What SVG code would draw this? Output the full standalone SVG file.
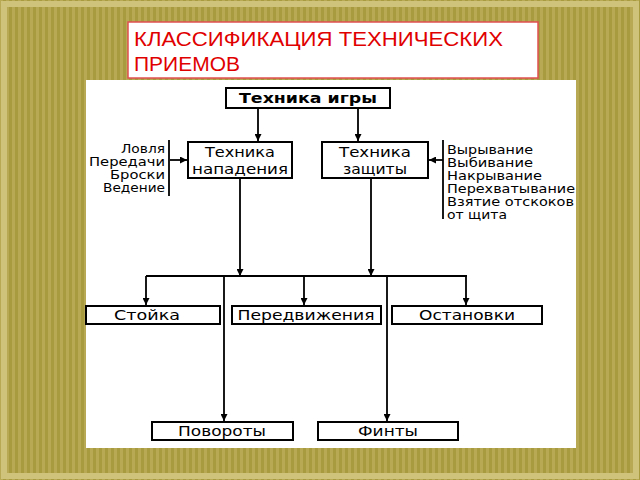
<svg xmlns="http://www.w3.org/2000/svg" width="640" height="480" viewBox="0 0 640 480">
<defs>
<pattern id="st" width="6" height="6" patternUnits="userSpaceOnUse">
<rect width="6" height="6" fill="#a89a3e"/>
<rect width="3" height="6" fill="#b8aa55"/>
</pattern>
<marker id="ah" viewBox="0 0 10 10" refX="10" refY="5" markerWidth="7" markerHeight="7" orient="auto" markerUnits="userSpaceOnUse"><path d="M0,0 L10,5 L0,10 z" fill="#000"/></marker>
</defs>
<style>
.b{fill:#fff;stroke:#000;stroke-width:2}
.t{font-family:"DejaVu Sans",Verdana,sans-serif;font-size:14px;fill:#000}
.s{font-family:"DejaVu Sans",Verdana,sans-serif;font-size:12px;fill:#000}
.c{stroke:#000;stroke-width:1.8;fill:none}
</style>
<rect width="640" height="480" fill="url(#st)"/>
<rect x="4" y="4" width="632" height="472" fill="none" stroke="#cfc27a" stroke-width="6"/>
<rect x="86" y="80" width="490" height="368" fill="#fff"/>
<g id="title">
<rect x="128" y="22" width="410" height="56" fill="#fff" stroke="#e05050" stroke-width="1.5"/>
<text x="134" y="46" font-family="Liberation Sans,Arial,sans-serif" font-size="20" fill="#e00000" textLength="369" lengthAdjust="spacingAndGlyphs">КЛАССИФИКАЦИЯ ТЕХНИЧЕСКИХ</text>
<text x="134" y="71" font-family="Liberation Sans,Arial,sans-serif" font-size="20" fill="#e00000" textLength="106" lengthAdjust="spacingAndGlyphs">ПРИЕМОВ</text>
</g>
<g id="connectors">
<line class="c" x1="258" y1="108" x2="258" y2="141" marker-end="url(#ah)"/>
<line class="c" x1="358" y1="108" x2="358" y2="141" marker-end="url(#ah)"/>
<line class="c" x1="169" y1="140" x2="169" y2="196"/>
<line class="c" x1="170" y1="160" x2="187" y2="160" marker-end="url(#ah)"/>
<line class="c" x1="443" y1="140" x2="443" y2="219"/>
<line class="c" x1="443" y1="160" x2="429" y2="160" marker-end="url(#ah)"/>
<line class="c" x1="240" y1="178" x2="240" y2="276" marker-end="url(#ah)"/>
<line class="c" x1="371" y1="178" x2="371" y2="276" marker-end="url(#ah)"/>
<line class="c" x1="146" y1="276" x2="467" y2="276"/>
<line class="c" x1="146" y1="276" x2="146" y2="305" marker-end="url(#ah)"/>
<line class="c" x1="304" y1="276" x2="304" y2="305" marker-end="url(#ah)"/>
<line class="c" x1="466" y1="276" x2="466" y2="305" marker-end="url(#ah)"/>
<line class="c" x1="224" y1="276" x2="224" y2="421" marker-end="url(#ah)"/>
<line class="c" x1="387" y1="276" x2="387" y2="421" marker-end="url(#ah)"/>
</g>
<g id="n-igra"><rect class="b" x="226" y="88" width="164" height="20"/><text class="t" x="308" y="103" text-anchor="middle" font-weight="bold" textLength="138" lengthAdjust="spacingAndGlyphs">Техника игры</text></g>
<g id="n-napad"><rect class="b" x="188" y="142" width="104" height="36"/><text class="t" x="240" y="157" text-anchor="middle" textLength="70" lengthAdjust="spacingAndGlyphs">Техника</text><text class="t" x="240" y="174" text-anchor="middle" textLength="96" lengthAdjust="spacingAndGlyphs">нападения</text></g>
<g id="n-zash"><rect class="b" x="322" y="142" width="106" height="36"/><text class="t" x="375" y="157" text-anchor="middle" textLength="72" lengthAdjust="spacingAndGlyphs">Техника</text><text class="t" x="375" y="174" text-anchor="middle" textLength="64" lengthAdjust="spacingAndGlyphs">защиты</text></g>
<g id="left-list">
<text class="s" x="165" y="153" text-anchor="end" textLength="44" lengthAdjust="spacingAndGlyphs">Ловля</text>
<text class="s" x="165" y="166" text-anchor="end" textLength="76" lengthAdjust="spacingAndGlyphs">Передачи</text>
<text class="s" x="165" y="179" text-anchor="end" textLength="55" lengthAdjust="spacingAndGlyphs">Броски</text>
<text class="s" x="165" y="192" text-anchor="end" textLength="62" lengthAdjust="spacingAndGlyphs">Ведение</text>
</g>
<g id="right-list">
<text class="s" x="447" y="154" textLength="86" lengthAdjust="spacingAndGlyphs">Вырывание</text>
<text class="s" x="447" y="167" textLength="86" lengthAdjust="spacingAndGlyphs">Выбивание</text>
<text class="s" x="447" y="180" textLength="95" lengthAdjust="spacingAndGlyphs">Накрывание</text>
<text class="s" x="447" y="193" textLength="128" lengthAdjust="spacingAndGlyphs">Перехватывание</text>
<text class="s" x="447" y="206" textLength="127" lengthAdjust="spacingAndGlyphs">Взятие отскоков</text>
<text class="s" x="447" y="219" textLength="60" lengthAdjust="spacingAndGlyphs">от щита</text>
</g>
<g id="n-stoika"><rect class="b" x="86" y="306" width="134" height="18"/><text class="t" x="147" y="320" text-anchor="middle" textLength="66" lengthAdjust="spacingAndGlyphs">Стойка</text></g>
<g id="n-pered"><rect class="b" x="232" y="306" width="149" height="18"/><text class="t" x="306" y="320" text-anchor="middle" textLength="137" lengthAdjust="spacingAndGlyphs">Передвижения</text></g>
<g id="n-ost"><rect class="b" x="392" y="306" width="150" height="18"/><text class="t" x="467" y="320" text-anchor="middle" textLength="96" lengthAdjust="spacingAndGlyphs">Остановки</text></g>
<g id="n-pov"><rect class="b" x="152" y="422" width="141" height="18"/><text class="t" x="222" y="436" text-anchor="middle" textLength="88" lengthAdjust="spacingAndGlyphs">Повороты</text></g>
<g id="n-fint"><rect class="b" x="318" y="422" width="140" height="18"/><text class="t" x="388" y="436" text-anchor="middle" textLength="60" lengthAdjust="spacingAndGlyphs">Финты</text></g>
</svg>
